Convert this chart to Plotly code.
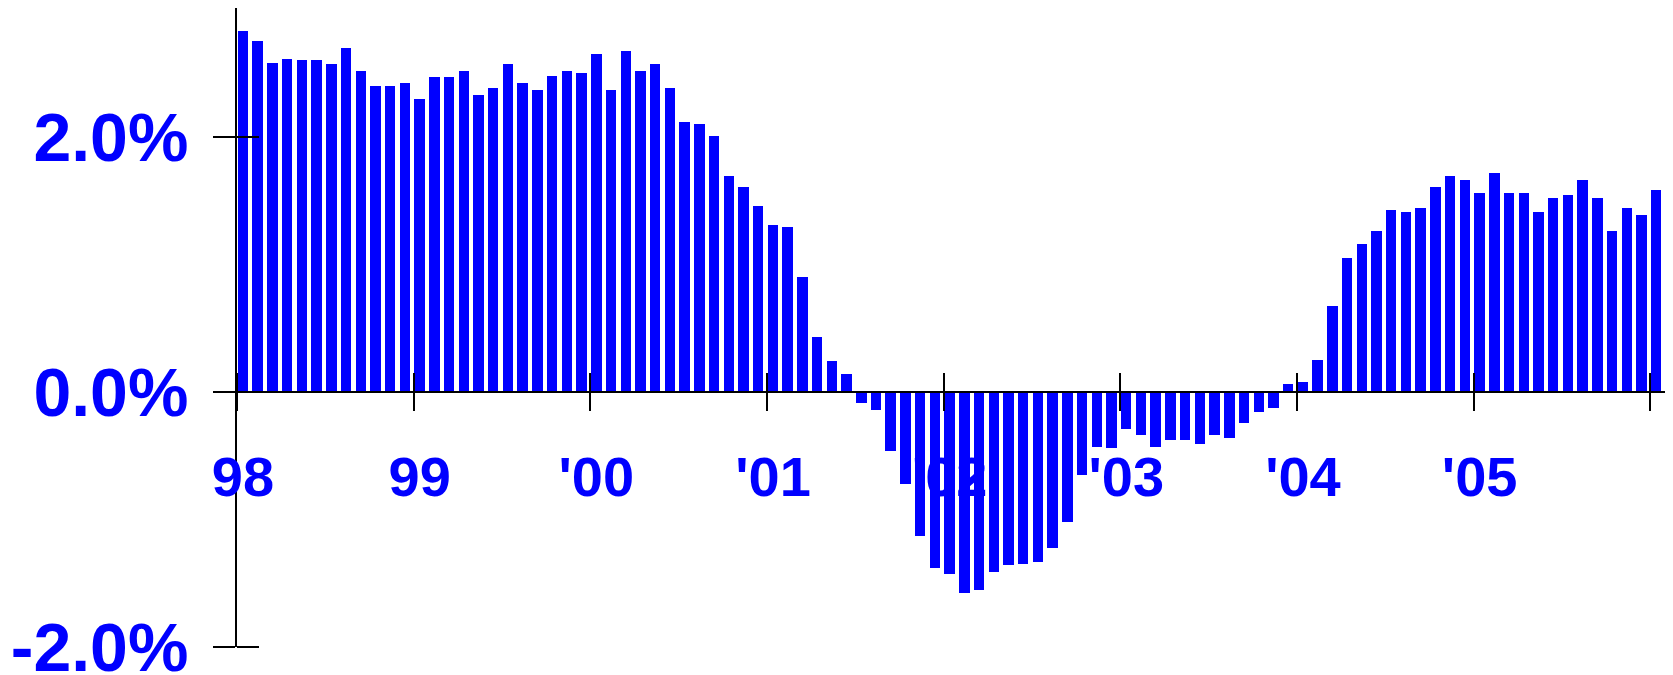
import plotly.graph_objects as go

# ---- data (monthly, Jan 1998 .. Jan 2006), in percent ----
v1998 = [2.83, 2.75, 2.58, 2.61, 2.60, 2.60, 2.57, 2.70, 2.52, 2.40, 2.40, 2.42]
v1999 = [2.30, 2.47, 2.47, 2.52, 2.33, 2.38, 2.57, 2.42, 2.37, 2.48, 2.52, 2.50]
v2000 = [2.65, 2.37, 2.67, 2.52, 2.57, 2.38, 2.12, 2.10, 2.01, 1.69, 1.61, 1.46]
v2001 = [1.31, 1.29, 0.90, 0.43, 0.24, 0.14, -0.09, -0.14, -0.46, -0.72, -1.13, -1.38]
v2002 = [-1.43, -1.58, -1.55, -1.41, -1.36, -1.35, -1.33, -1.22, -1.02, -0.65, -0.43, -0.44]
v2003 = [-0.29, -0.34, -0.43, -0.38, -0.38, -0.41, -0.34, -0.36, -0.24, -0.16, -0.13, 0.06]
v2004 = [0.08, 0.25, 0.67, 1.05, 1.16, 1.26, 1.43, 1.41, 1.44, 1.61, 1.69, 1.66]
v2005 = [1.56, 1.72, 1.56, 1.56, 1.41, 1.52, 1.54, 1.66, 1.52, 1.26, 1.44, 1.39]
v2006 = [1.58]

year_tick_labels = ["98", "99", "'00", "'01", "'02", "'03", "'04", "'05", ""]
y_tick_vals = [-2.0, 0.0, 2.0]
y_tick_text = ["-2.0%", "0.0%", "2.0%"]

values = v1998 + v1999 + v2000 + v2001 + v2002 + v2003 + v2004 + v2005 + v2006
month_idx = list(range(len(values)))
year_tick_vals = [12 * i for i in range(len(year_tick_labels))]

y_range = [-2.0, 3.01]
x_range = [0, 97]
zero_pos = (0 - y_range[0]) / (y_range[1] - y_range[0])

BLUE = "#0000FF"
FONT = "Liberation Sans, Arial, Helvetica, sans-serif"

fig = go.Figure(
    go.Bar(
        x=month_idx,
        y=values,
        width=0.71,
        offset=0.05,
        marker=dict(color=BLUE, line=dict(width=0)),
        hoverinfo="skip",
    )
)

eps = 1e-3
fig.update_layout(
    width=1665,
    height=667,
    autosize=False,
    margin=dict(l=229, r=8, t=0, b=28, pad=0, autoexpand=False),
    paper_bgcolor="white",
    plot_bgcolor="white",
    showlegend=False,
    bargap=0,
    xaxis=dict(
        range=x_range,
        automargin=False,
        anchor="free",
        position=zero_pos,
        showgrid=False,
        zeroline=False,
        showline=True,
        linecolor="black",
        linewidth=2,
        ticks="outside",
        ticklen=18,
        tickwidth=2,
        tickcolor="black",
        tickmode="array",
        tickvals=year_tick_vals,
        ticktext=year_tick_labels,
        tickfont=dict(family=FONT, size=56, color=BLUE, weight="bold"),
        ticklabelshift=6,
        ticklabelstandoff=18,
        ticklabeloverflow="allow",
        minor=dict(
            ticks="inside",
            ticklen=18,
            tickwidth=2,
            tickcolor="black",
            tickmode="array",
            tickvals=[v + eps for v in year_tick_vals],
        ),
    ),
    yaxis=dict(
        range=y_range,
        automargin=False,
        showgrid=False,
        zeroline=False,
        showline=True,
        linecolor="black",
        linewidth=2,
        ticks="outside",
        ticklen=22,
        tickwidth=2,
        tickcolor="black",
        tickmode="array",
        tickvals=y_tick_vals,
        ticktext=y_tick_text,
        tickfont=dict(family=FONT, size=68, color=BLUE, weight="bold"),
        ticklabelstandoff=11,
        ticklabeloverflow="allow",
        minor=dict(
            ticks="inside",
            ticklen=22,
            tickwidth=2,
            tickcolor="black",
            tickmode="array",
            tickvals=[v + eps for v in y_tick_vals],
        ),
    ),
)

fig.write_html("out.html")
